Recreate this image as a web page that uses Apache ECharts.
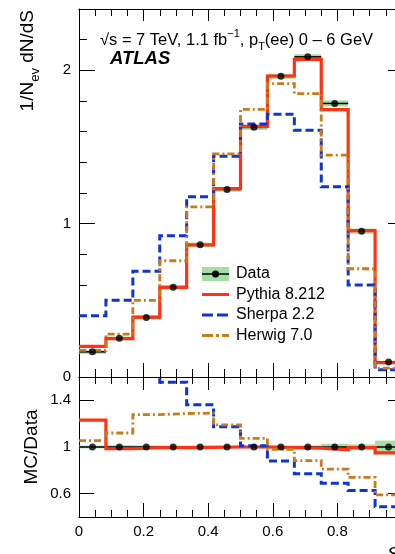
<!DOCTYPE html>
<html>
<head>
<meta charset="utf-8">
<script src="https://cdn.jsdelivr.net/npm/echarts@6/dist/echarts.min.js"></script>
<style>
html,body{margin:0;padding:0;background:#fff;}
#chart{width:395px;height:554px;}
</style>
</head>
<body>
<div id="chart"></div>
<script>
// ---------- data ----------
const binEdges = [0, 0.0833, 0.1667, 0.25, 0.3333, 0.4167, 0.5, 0.5833, 0.6667, 0.75, 0.8333, 0.9167, 1.0];
const dataVals   = [0.164, 0.252, 0.388, 0.586, 0.862, 1.223, 1.628, 1.961, 2.088, 1.784, 0.951, 0.098];
const dataErr    = [0.012, 0.012, 0.012, 0.013, 0.014, 0.015, 0.016, 0.017, 0.017, 0.020, 0.017, 0.008];
const pythiaVals = [0.200, 0.250, 0.390, 0.584, 0.862, 1.228, 1.635, 1.963, 2.072, 1.744, 0.955, 0.093];
const sherpaVals = [0.400, 0.500, 0.690, 0.922, 1.176, 1.440, 1.650, 1.714, 1.610, 1.241, 0.600, 0.048];
const herwigVals = [0.173, 0.280, 0.500, 0.758, 1.110, 1.455, 1.746, 1.913, 1.848, 1.447, 0.706, 0.058];

const ratioData   = [1, 1, 1, 1, 1, 1, 1, 1, 1, 1, 1, 1];
const ratioErr    = [0.012, 0.015, 0.013, 0.012, 0.012, 0.012, 0.012, 0.012, 0.014, 0.027, 0.022, 0.055];
const ratioPythia = [1.23, 0.985, 0.995, 0.995, 0.997, 1.0, 1.0, 0.994, 0.99, 0.976, 0.994, 0.95];
const ratioSherpa = [2.44, 1.98, 1.78, 1.556, 1.363, 1.173, 1.01, 0.88, 0.77, 0.69, 0.628, 0.487];
const ratioHerwig = [1.054, 1.12, 1.278, 1.287, 1.29, 1.19, 1.074, 0.98, 0.883, 0.81, 0.739, 0.59];

const mainYTicks  = [0, 1, 2];
const ratioYTicks = [0.6, 1, 1.4];
const legendNames = ['Data', 'Pythia 8.212', 'Sherpa 2.2', 'Herwig 7.0'];

// ---------- styles ----------
const FONT = "'Liberation Sans', Arial, Helvetica, sans-serif";
const RED = '#ff3314', BLUE = '#1034d2', ORANGE = '#c97a1c', GREEN = '#a6dca6';

function stepData(vals) {
  return vals.map((v, i) => [binEdges[i], v]).concat([[binEdges[vals.length], vals[vals.length - 1]]]);
}
function bandData(vals, errs) {
  return vals.map((v, i) => [binEdges[i], binEdges[i + 1], v - errs[i], v + errs[i]]);
}
function xerrData(vals) {
  return vals.map((v, i) => [binEdges[i], binEdges[i + 1], v]);
}
function centerData(vals) {
  return vals.map((v, i) => [(binEdges[i] + binEdges[i + 1]) / 2, v]);
}
function svgIcon(svg) {
  return 'image://data:image/svg+xml;charset=utf-8,' + encodeURIComponent(svg);
}
const icons = {
  'Data': svgIcon("<svg xmlns='http://www.w3.org/2000/svg' width='27' height='14'><rect width='27' height='14' fill='" + GREEN + "'/><line x1='0' y1='7' x2='27' y2='7' stroke='black' stroke-width='1.5'/><circle cx='13.5' cy='7' r='3.5' fill='black'/></svg>"),
  'Pythia 8.212': svgIcon("<svg xmlns='http://www.w3.org/2000/svg' width='27' height='14'><line x1='0' y1='7' x2='27' y2='7' stroke='" + RED + "' stroke-width='3.2'/></svg>"),
  'Sherpa 2.2': svgIcon("<svg xmlns='http://www.w3.org/2000/svg' width='27' height='14'><line x1='0' y1='7' x2='27' y2='7' stroke='" + BLUE + "' stroke-width='3' stroke-dasharray='11 4'/></svg>"),
  'Herwig 7.0': svgIcon("<svg xmlns='http://www.w3.org/2000/svg' width='27' height='14'><line x1='0' y1='7' x2='27' y2='7' stroke='" + ORANGE + "' stroke-width='3' stroke-dasharray='11 3 3 3'/></svg>")
};

function bandSeries(name, xi, yi, data) {
  return {
    name: name, type: 'custom', xAxisIndex: xi, yAxisIndex: yi, z: 1, silent: true,
    encode: { x: [0, 1], y: [2, 3] }, data: data,
    renderItem: function (params, api) {
      const p0 = api.coord([api.value(0), api.value(3)]);
      const p1 = api.coord([api.value(1), api.value(2)]);
      return { type: 'rect', shape: { x: p0[0], y: p0[1], width: p1[0] - p0[0], height: p1[1] - p0[1] },
        style: { fill: GREEN } };
    }
  };
}
function xerrSeries(name, xi, yi, data) {
  return {
    name: name, type: 'custom', xAxisIndex: xi, yAxisIndex: yi, z: 2, silent: true,
    encode: { x: [0, 1], y: 2 }, data: data,
    renderItem: function (params, api) {
      const p0 = api.coord([api.value(0), api.value(2)]);
      const p1 = api.coord([api.value(1), api.value(2)]);
      return { type: 'line', shape: { x1: p0[0], y1: p0[1], x2: p1[0], y2: p1[1] },
        style: { stroke: '#000', lineWidth: 1.5 } };
    }
  };
}
function stepSeries(name, xi, yi, vals, color, width, dash, z) {
  return {
    name: name, type: 'line', step: 'end', xAxisIndex: xi, yAxisIndex: yi, z: z,
    data: stepData(vals), showSymbol: false, symbol: 'none', silent: true, clip: true,
    lineStyle: { color: color, width: width, type: dash, cap: 'butt', join: 'miter' },
    itemStyle: { color: color }
  };
}
function pointSeries(name, xi, yi, vals) {
  return {
    name: name, type: 'scatter', xAxisIndex: xi, yAxisIndex: yi, z: 6, silent: true,
    data: centerData(vals), symbol: 'circle', symbolSize: 7, itemStyle: { color: '#000' }
  };
}

const axisLineStyle = { show: true, lineStyle: { color: '#000', width: 1 } };
function xAxisDef(grid, pos, showLabel, majorLen, minorLen) {
  return {
    type: 'value', gridIndex: grid, position: pos, min: 0, max: 1, interval: 0.2,
    axisLine: Object.assign({ onZero: false }, axisLineStyle),
    axisTick: { show: true, inside: true, length: majorLen, lineStyle: { color: '#000', width: 1 } },
    minorTick: { show: true, splitNumber: 4, length: minorLen, lineStyle: { color: '#000', width: 1 } },
    axisLabel: { show: showLabel, margin: 7, fontSize: 15, fontFamily: FONT, color: '#000', hideOverlap: false },
    splitLine: { show: false }, minorSplitLine: { show: false }
  };
}

const option = {
  animation: false,
  backgroundColor: '#fff',
  grid: [
    { left: 79, top: 9, width: 323, height: 368, containLabel: false, outerBoundsMode: 'none' },
    { left: 79, top: 377, width: 323, height: 140, containLabel: false, outerBoundsMode: 'none' }
  ],
  xAxis: [
    xAxisDef(0, 'bottom', false, 14, 8),
    xAxisDef(0, 'top', false, 12, 7),
    xAxisDef(1, 'bottom', true, 14, 7),
    xAxisDef(1, 'top', false, 13, 7)
  ],
  yAxis: [
    {
      type: 'value', gridIndex: 0, position: 'left', min: 0, max: 2.4, interval: 1,
      axisLine: Object.assign({ onZero: false }, axisLineStyle),
      axisTick: { show: true, inside: true, length: 16, lineStyle: { color: '#000' } },
      minorTick: { show: true, splitNumber: 5, length: 8, lineStyle: { color: '#000' } },
      axisLabel: { show: true, margin: 8, fontSize: 15, fontFamily: FONT, color: '#000', customValues: mainYTicks },
      splitLine: { show: false }
    },
    {
      type: 'value', gridIndex: 0, position: 'right', min: 0, max: 2.4, interval: 1,
      axisLine: Object.assign({ onZero: false }, axisLineStyle),
      axisTick: { show: true, inside: true, length: 14, lineStyle: { color: '#000' } },
      minorTick: { show: true, splitNumber: 5, length: 7, lineStyle: { color: '#000' } },
      axisLabel: { show: false }, splitLine: { show: false }
    },
    {
      type: 'value', gridIndex: 1, position: 'left', min: 0.4, max: 1.6,
      axisLine: Object.assign({ onZero: false }, axisLineStyle),
      axisTick: { show: true, inside: true, length: 15, customValues: ratioYTicks, lineStyle: { color: '#000' } },
      axisLabel: { show: true, margin: 8, fontSize: 15, fontFamily: FONT, color: '#000', customValues: ratioYTicks },
      splitLine: { show: false }
    },
    {
      type: 'value', gridIndex: 1, position: 'right', min: 0.4, max: 1.6,
      axisLine: Object.assign({ onZero: false }, axisLineStyle),
      axisTick: { show: true, inside: true, length: 14, customValues: ratioYTicks, lineStyle: { color: '#000' } },
      axisLabel: { show: false }, splitLine: { show: false }
    }
  ],
  legend: {
    show: true, orient: 'vertical', left: 202, top: 266, padding: 0, itemWidth: 27, itemHeight: 14, itemGap: 4.5,
    selectedMode: false, icon: 'rect',
    textStyle: { fontSize: 16, fontFamily: FONT, color: '#000', lineHeight: 16, padding: [0, 0, 0, 2] },
    data: legendNames.map(n => ({ name: n, icon: icons[n] }))
  },
  graphic: [
    {
      type: 'text', x: 100, y: 40, silent: true,
      style: {
        text: '√s = 7 TeV, 1.1 fb{sup|−1}, p{sub|T}(ee) 0 – 6 GeV',
        fontSize: 16.5, fontFamily: FONT, fill: '#000', align: 'left', verticalAlign: 'middle',
        rich: {
          sup: { fontSize: 11, lineHeight: 11, verticalAlign: 'top', fontFamily: FONT, fill: '#000' },
          sub: { fontSize: 11, lineHeight: 11, verticalAlign: 'bottom', fontFamily: FONT, fill: '#000' }
        },
        lineHeight: 24
      }
    },
    {
      type: 'text', x: 110, y: 59, silent: true,
      style: { text: 'ATLAS', fontSize: 18.5, fontWeight: 'bold', fontStyle: 'italic', fontFamily: FONT,
        fill: '#000', align: 'left', verticalAlign: 'middle' }
    },
    {
      type: 'text', x: 28, y: 10, rotation: Math.PI / 2, silent: true,
      style: {
        text: '1/N{sub|ev} dN/dS', fontSize: 19, fontFamily: FONT, fill: '#000',
        align: 'right', verticalAlign: 'middle', lineHeight: 28,
        rich: { sub: { fontSize: 13, lineHeight: 14, verticalAlign: 'bottom', fontFamily: FONT, fill: '#000' } }
      }
    },
    {
      type: 'text', x: 32, y: 447, rotation: Math.PI / 2, silent: true,
      style: { text: 'MC/Data', fontSize: 19, fontFamily: FONT, fill: '#000', align: 'center', verticalAlign: 'middle' }
    },
    {
      type: 'text', x: 387, y: 545, silent: true,
      style: { text: 'S', fontSize: 19, fontStyle: 'italic', fontFamily: FONT, fill: '#000', align: 'left', verticalAlign: 'top' }
    }
  ],
  series: [
    // main panel
    bandSeries('Data', 0, 0, bandData(dataVals, dataErr)),
    xerrSeries('Data', 0, 0, xerrData(dataVals)),
    stepSeries('Pythia 8.212', 0, 0, pythiaVals, RED, 3.2, 'solid', 3),
    stepSeries('Sherpa 2.2', 0, 0, sherpaVals, BLUE, 3, [8, 4], 4),
    stepSeries('Herwig 7.0', 0, 0, herwigVals, ORANGE, 2.8, [7, 3, 2, 3], 5),
    pointSeries('Data', 0, 0, dataVals),
    // ratio panel
    bandSeries('Data', 2, 2, bandData(ratioData, ratioErr)),
    xerrSeries('Data', 2, 2, xerrData(ratioData)),
    stepSeries('Pythia 8.212', 2, 2, ratioPythia, RED, 3.2, 'solid', 3),
    stepSeries('Sherpa 2.2', 2, 2, ratioSherpa, BLUE, 3, [8, 4], 4),
    stepSeries('Herwig 7.0', 2, 2, ratioHerwig, ORANGE, 2.8, [7, 3, 2, 3], 5),
    pointSeries('Data', 2, 2, ratioData)
  ]
};

const chart = echarts.init(document.getElementById('chart'), null, { renderer: 'canvas', width: 395, height: 554 });
chart.setOption(option);
</script>
</body>
</html>
